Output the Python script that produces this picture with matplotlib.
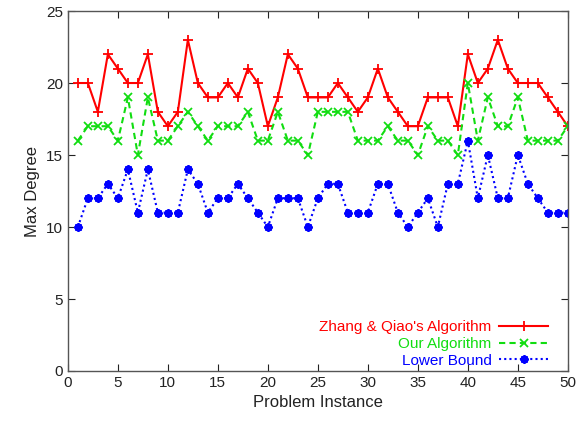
#!/usr/bin/env python3

import numpy as np
from matplotlib import pyplot as plt

plt.rcParams['font.family'] = ['Liberation Sans', 'DejaVu Sans']

instances = list(range(1, 51))

zhang_qiao = [20, 20, 18, 22, 21, 20, 20, 22, 18, 17,
              18, 23, 20, 19, 19, 20, 19, 21, 20, 17,
              19, 22, 21, 19, 19, 19, 20, 19, 18, 19,
              21, 19, 18, 17, 17, 19, 19, 19, 17, 22,
              20, 21, 23, 21, 20, 20, 20, 19, 18, 17]

our_algorithm = [16, 17, 17, 17, 16, 19, 15, 19, 16, 16,
                 17, 18, 17, 16, 17, 17, 17, 18, 16, 16,
                 18, 16, 16, 15, 18, 18, 18, 18, 16, 16,
                 16, 17, 16, 16, 15, 17, 16, 16, 15, 20,
                 16, 19, 17, 17, 19, 16, 16, 16, 16, 17]

lower_bound = [10, 12, 12, 13, 12, 14, 11, 14, 11, 11,
               11, 14, 13, 11, 12, 12, 13, 12, 11, 10,
               12, 12, 12, 10, 12, 13, 13, 11, 11, 11,
               13, 13, 11, 10, 11, 12, 10, 13, 13, 16,
               12, 15, 12, 12, 15, 13, 12, 11, 11, 11]

RED = '#ff0000'
GREEN = '#11dd11'
BLUE = '#0000ff'

fig = plt.figure(figsize=(5.8, 4.24), dpi=100)
ax = fig.add_axes([0.117, 0.125, 0.862, 0.849])

ax.plot(instances, zhang_qiao, color=RED, linestyle='-', linewidth=1.5,
        marker='+', markersize=7, markeredgewidth=1.3,
        label="Zhang & Qiao's Algorithm")
ax.plot(instances, our_algorithm, color=GREEN, linestyle=(0, (3, 2)), linewidth=1.5,
        marker='x', markersize=6, markeredgewidth=1.3,
        label='Our Algorithm')
ax.plot(instances, lower_bound, color=BLUE, linestyle=(0, (1, 1.5)), linewidth=1.5,
        marker=(8, 2, 0), markersize=6, markeredgewidth=1.5,
        label='Lower Bound')

ax.set_xlim(0, 50)
ax.set_ylim(0, 25)
ax.set_xticks(np.arange(0, 51, 5))
ax.set_yticks(np.arange(0, 26, 5))
ax.tick_params(direction='in', top=True, right=True, length=5, labelsize=11, colors='#222222')
for s in ax.spines.values():
  s.set_color('#555555')
  s.set_linewidth(1.0)

ax.set_xlabel('Problem Instance', fontsize=12, color='#222222')
ax.set_ylabel('Max Degree', fontsize=12, color='#222222')

leg = ax.legend(loc='lower right', bbox_to_anchor=(0.985, -0.025), frameon=False,
                markerfirst=False, fontsize=11, handlelength=3.2, handletextpad=0.5,
                labelspacing=0.18, borderaxespad=0.4)
for text, col in zip(leg.get_texts(), [RED, GREEN, BLUE]):
  text.set_color(col)

fig.savefig('out.png', dpi=100)
